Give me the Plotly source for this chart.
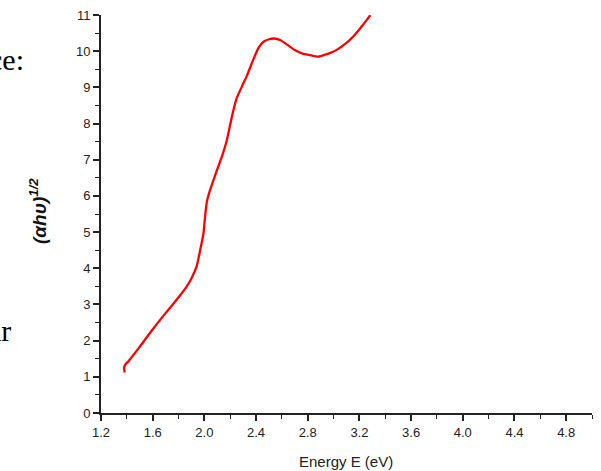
import plotly.graph_objects as go

energy = [1.383, 1.379, 1.39, 1.41, 1.45, 1.50, 1.56, 1.63, 1.70, 1.76, 1.81, 1.86,
          1.90, 1.94, 1.967, 1.993, 2.006, 2.02, 2.04, 2.065, 2.097, 2.135, 2.174,
          2.213, 2.25, 2.29, 2.33, 2.38, 2.42, 2.458, 2.50, 2.54, 2.59, 2.64,
          2.70, 2.76, 2.82, 2.88, 2.93, 2.98, 3.03, 3.09, 3.15, 3.21, 3.26, 3.285]
ahv_half = [1.12, 1.25, 1.35, 1.42, 1.60, 1.83, 2.12, 2.45, 2.76, 3.02, 3.24, 3.48,
            3.72, 4.05, 4.49, 4.96, 5.45, 5.85, 6.12, 6.38, 6.71, 7.08, 7.54,
            8.19, 8.70, 9.02, 9.33, 9.78, 10.10, 10.26, 10.33, 10.35, 10.30, 10.18,
            10.03, 9.93, 9.89, 9.85, 9.90, 9.96, 10.05, 10.20, 10.40, 10.65, 10.88, 11.0]

x_range = [1.2, 5.0]
y_range = [0, 11]

W, H = 601, 471
ml, mr, mt, mb = 101, 9, 15, 58
pw = W - ml - mr
ph = H - mt - mb

fig = go.Figure()
fig.add_trace(go.Scatter(x=energy, y=ahv_half, mode="lines",
                         line=dict(color="#ff0000", width=2.3, shape="spline", smoothing=0.5),
                         showlegend=False, hoverinfo="skip"))

axis_common = dict(showgrid=False, zeroline=False, showline=True, linecolor="#222222",
                   linewidth=1.8, ticks="outside", ticklen=6, tickwidth=1.6,
                   tickcolor="#222222",
                   tickfont=dict(family="Liberation Sans, Arial", size=13, color="#222222"))

fig.update_xaxes(range=x_range, tick0=1.2, dtick=0.4, tickformat=".1f",
                 minor=dict(dtick=0.2, ticks="outside", ticklen=4, tickwidth=1.4, tickcolor="#222222"),
                 **axis_common)
fig.update_yaxes(range=y_range, tick0=0, dtick=1,
                 minor=dict(dtick=0.5, ticks="outside", ticklen=4, tickwidth=1.4, tickcolor="#222222"),
                 **axis_common)

def px_x(p):
    return (p - ml) / pw

def px_y(p):
    return (H - mb - p) / ph

fig.add_annotation(text="Energy E (eV)", xref="paper", yref="paper",
                   x=px_x(346), y=px_y(461), xanchor="center", yanchor="middle",
                   showarrow=False,
                   font=dict(family="Liberation Sans, Arial", size=15, color="#222222"))
fig.add_annotation(text="<b><i>(αhυ)<sup>1/2</sup></i></b>", xref="paper", yref="paper",
                   x=px_x(38), y=px_y(211), xanchor="center", yanchor="middle",
                   textangle=-90, showarrow=False,
                   font=dict(family="Liberation Sans, Arial", size=19, color="#111111"))
fig.add_annotation(text="ce:", xref="paper", yref="paper",
                   x=px_x(26), y=px_y(60), xanchor="right", yanchor="middle",
                   showarrow=False,
                   font=dict(family="Liberation Serif, Times New Roman", size=30, color="#000000"))
fig.add_annotation(text="ar", xref="paper", yref="paper",
                   x=px_x(13), y=px_y(330), xanchor="right", yanchor="middle",
                   showarrow=False,
                   font=dict(family="Liberation Serif, Times New Roman", size=30, color="#000000"))

fig.update_layout(width=W, height=H, margin=dict(l=ml, r=mr, t=mt, b=mb),
                  paper_bgcolor="white", plot_bgcolor="white")

fig.write_html("out.html", config={"displayModeBar": False},
               post_script="document.body.style.margin='0';document.body.style.overflow='hidden';")
